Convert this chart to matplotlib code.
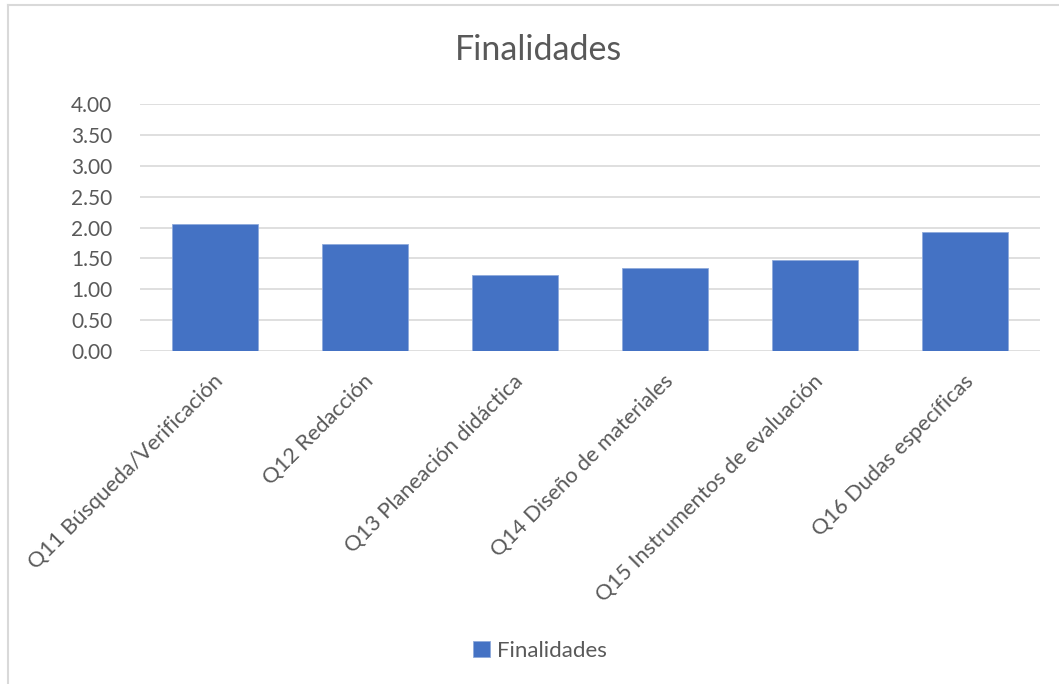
import numpy as np
import matplotlib.pyplot as plt
from matplotlib.lines import Line2D

plt.rcParams['font.family'] = ['Lato', 'DejaVu Sans']

# datos
categorias = ['Q11 Búsqueda/Verificación', 'Q12 Redacción', 'Q13 Planeación didáctica',
              'Q14 Diseño de materiales', 'Q15 Instrumentos de evaluación',
              'Q16 Dudas específicas']
valores = [2.05, 1.73, 1.23, 1.35, 1.47, 1.92]
ticks_y = [0.0, 0.5, 1.0, 1.5, 2.0, 2.5, 3.0, 3.5, 4.0]

W, H = 1059, 684
fig = plt.figure(figsize=(W / 100, H / 100), dpi=100)
ax = fig.add_axes([140 / W, 1 - 351 / H, 900 / W, 247 / H])

x = np.arange(len(categorias))
ax.bar(x, valores, width=0.57, color='#4472C4', edgecolor='#8FAADC', linewidth=0.6,
       zorder=3, label='Finalidades')

ax.set_xlim(-0.5, len(categorias) - 0.5)
ax.set_ylim(0, 4)
ax.set_yticks(ticks_y)
ax.set_yticklabels(['%.2f' % t for t in ticks_y], fontsize=15, color='#595959')
ax.tick_params(axis='y', length=0, pad=20)
ax.yaxis.grid(True, color='#D9D9D9', linewidth=1.2, zorder=0)
for s in ax.spines.values():
    s.set_visible(False)

ax.set_xticks(x)
ax.set_xticklabels([])
ax.tick_params(axis='x', length=0)
for xi, cat in zip(x, categorias):
    ax.annotate(cat, xy=(xi, 0), xycoords='data', xytext=(-2, -20), textcoords='offset pixels',
                rotation=45, rotation_mode='anchor', ha='right', va='top',
                fontsize=15.7, color='#595959')

fig.text(538 / W, 1 - 50 / H, 'Finalidades', ha='center', va='center',
         fontsize=24.5, color='#595959')

# leyenda
fig.legend(loc='center', bbox_to_anchor=(540 / W, 1 - 651 / H), frameon=False,
           fontsize=16, labelcolor='#595959', handlelength=0.75, handleheight=0.75,
           handletextpad=0.3)

# marco del area de grafico
fig.add_artist(Line2D([8 / W, 8 / W], [0, 1 - 5 / H], color='#D9D9D9', linewidth=1.5))
fig.add_artist(Line2D([8 / W, 1], [1 - 5 / H, 1 - 5 / H], color='#D9D9D9', linewidth=1.5))

fig.savefig('out.png', dpi=100)
